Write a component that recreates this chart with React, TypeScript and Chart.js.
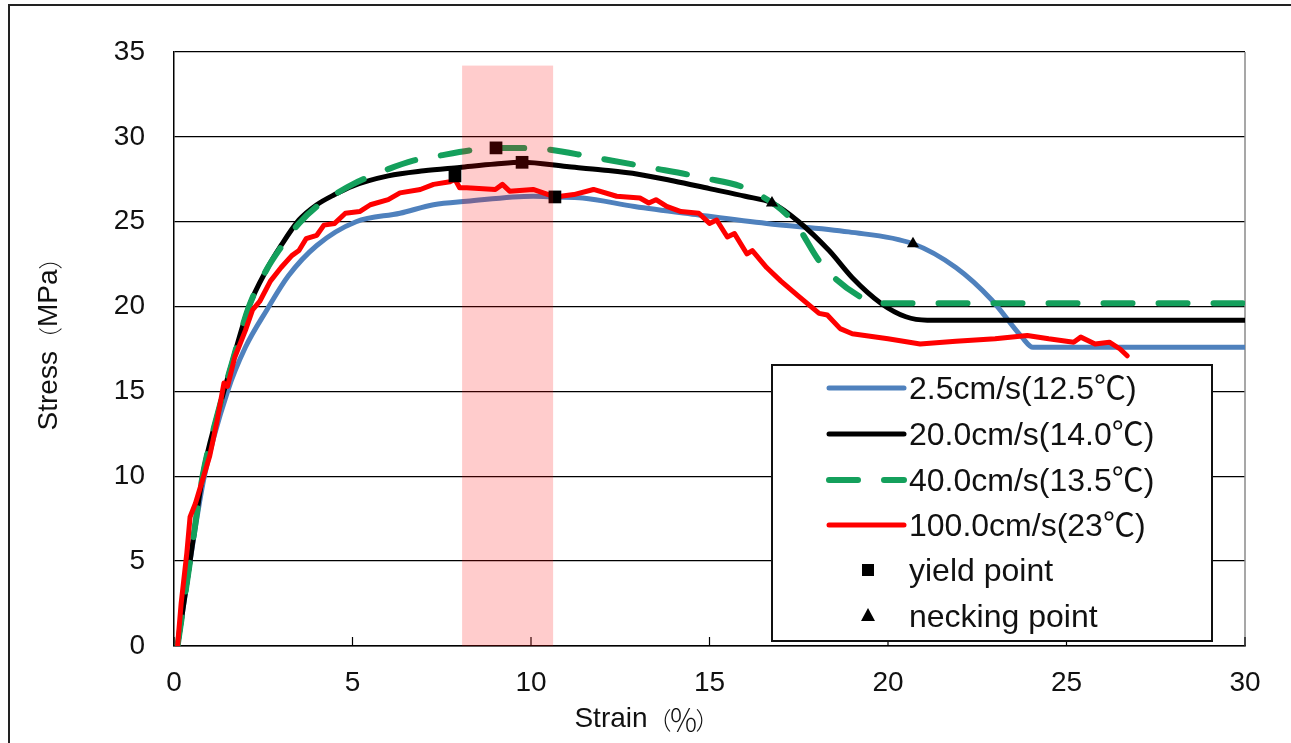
import { useEffect, useRef } from 'react';
import { Chart, registerables } from 'chart.js';
Chart.register(...registerables);

// ---- data ----
const xTicks = [0, 5, 10, 15, 20, 25, 30];
const yTicks = [0, 5, 10, 15, 20, 25, 30, 35];

const blueStrain = [0.1, 0.45, 0.85, 1.5, 2.0, 2.6, 3.2, 4.0, 5.1, 6.33, 7.27, 8.2, 10.06, 10.67, 11.45, 12.9, 14.7, 16.6, 18.9, 20.7, 21.9, 22.9, 23.75, 24.06, 25, 30];
const blueStress = [0, 5, 10, 15, 17.6, 19.8, 21.8, 23.6, 25, 25.5, 26.0, 26.2, 26.5, 26.46, 26.4, 25.9, 25.4, 24.9, 24.4, 23.7, 22.3, 20.4, 18.2, 17.6, 17.6, 17.6];

const blackStrain = [0.1, 0.45, 0.8, 1.2, 1.6, 2.1, 2.6, 3.0, 3.5, 4.0, 4.5, 5.0, 6.0, 7.0, 8.0, 9.0, 9.75, 11, 12, 13, 14, 15, 16, 16.75, 17.5, 18.35, 19.0, 19.8, 20.5, 21.1, 30];
const blackStress = [0, 5, 10, 13.5, 16.5, 20, 22.2, 23.6, 25.1, 26.0, 26.6, 27.1, 27.7, 28.0, 28.2, 28.4, 28.5, 28.25, 28.05, 27.8, 27.4, 26.95, 26.5, 26.1, 25.0, 23.3, 21.7, 20.2, 19.4, 19.2, 19.2];

const greenStrain = [0.1, 0.45, 0.8, 1.2, 1.6, 2.1, 2.6, 3.0, 3.5, 4.0, 4.5, 5.0, 6.0, 6.7, 7.45, 8.3, 9.02, 10.25, 11.74, 13.3, 14.8, 16.2, 17.4, 18.07, 18.5, 19.2, 19.6, 30];
const greenStress = [0, 5, 10, 13.5, 16.5, 20, 22.2, 23.5, 24.9, 25.9, 26.6, 27.2, 28.1, 28.6, 28.9, 29.2, 29.35, 29.3, 28.8, 28.2, 27.6, 26.8, 24.9, 22.7, 21.7, 20.6, 20.2, 20.2];

const redStrain = [0.1, 0.2, 0.36, 0.45, 0.6, 0.8, 1.0, 1.2, 1.4, 1.5, 1.7, 2.0, 2.2, 2.4, 2.7, 3.0, 3.3, 3.5, 3.7, 4.0, 4.2, 4.5, 4.8, 5.2, 5.5, 6.0, 6.33, 6.9, 7.27, 7.73, 7.87, 8.0, 8.2, 9.0, 9.2, 9.4, 10.06, 10.67, 11.2, 11.75, 12.4, 13.05, 13.3, 13.5, 13.8, 14.2, 14.7, 15.0, 15.2, 15.5, 15.7, 16.05, 16.2, 16.6, 17.0, 17.5, 18.07, 18.3, 18.66, 19.0, 20.0, 20.9, 21.9, 23.0, 23.9, 24.5, 25.2, 25.4, 25.8, 26.2, 26.5, 26.7];
const redStress = [0, 2.5, 5.5, 7.6, 8.4, 9.8, 11.2, 13.2, 15.5, 15.3, 17.0, 18.6, 19.8, 20.3, 21.5, 22.3, 23.0, 23.3, 24.0, 24.2, 24.8, 24.9, 25.5, 25.6, 26.0, 26.3, 26.7, 26.9, 27.2, 27.35, 27.5, 27.0, 27.0, 26.9, 27.2, 26.8, 26.9, 26.46, 26.6, 26.9, 26.5, 26.4, 26.1, 26.3, 25.9, 25.6, 25.5, 24.9, 25.1, 24.1, 24.3, 23.1, 23.3, 22.3, 21.5, 20.6, 19.6, 19.5, 18.7, 18.4, 18.1, 17.8, 17.95, 18.1, 18.3, 18.1, 17.9, 18.2, 17.8, 17.9, 17.5, 17.1];

const yieldStrain = [7.87, 9.02, 9.75, 10.67];
const yieldStress = [27.7, 29.35, 28.5, 26.46];
const neckStrain = [16.75, 20.7];
const neckStress = [26.1, 23.7];

const bandStrain = [8.07, 10.62];
const bandTop = 34.2;

const seriesLabels = ['2.5cm/s(12.5℃)', '20.0cm/s(14.0℃)', '40.0cm/s(13.5℃)', '100.0cm/s(23℃)'];
const markerLabels = ['yield point', 'necking point'];
const xTitleParts = ['Strain', '（', '％', '）'];
const yTitleParts = ['Stress', '（', 'MPa', '）'];

const colors = ['#4F81BD', '#000000', '#14A05C', '#FF0000'];
const FONT = '"Liberation Sans", Arial, "Noto Sans CJK JP", sans-serif';
const CJK = '"Noto Sans CJK JP", sans-serif';

const pts = (xs: number[], ys: number[]) => xs.map((x, i) => ({ x, y: ys[i] }));

const isCJK = (s: string) => /[（）％]/.test(s);

function drawSegments(ctx: CanvasRenderingContext2D, parts: string[], cx: number, cy: number) {
  const fonts = parts.map((p) => (p === '％' ? `300 30px ${CJK}` : isCJK(p) ? `300 24px ${CJK}` : `28px ${FONT}`));
  const widths = parts.map((p, i) => { ctx.font = fonts[i]; return ctx.measureText(p).width * (p === '％' ? 0.8 : 1); });
  const total = widths.reduce((a, b) => a + b, 0);
  let x = cx - total / 2;
  ctx.textAlign = 'left';
  ctx.textBaseline = 'middle';
  parts.forEach((p, i) => {
    ctx.font = fonts[i];
    ctx.fillText(p, x - (p === '％' ? widths[i] * 0.125 : 0), cy + (isCJK(p) ? 1 : 0));
    x += widths[i];
  });
}

const decorPlugin = {
  id: 'decor',
  beforeDatasetsDraw(chart: any) {
    const { ctx, chartArea: a, scales } = chart;
    ctx.save();
    ctx.strokeStyle = '#8a8a8a';
    ctx.lineWidth = 1.5;
    ctx.beginPath();
    ctx.moveTo(a.right, a.top);
    ctx.lineTo(a.right, a.bottom);
    ctx.stroke();
    ctx.strokeStyle = '#000';
    ctx.lineWidth = 1.2;
    xTicks.forEach((v) => {
      const px = scales.x.getPixelForValue(v);
      ctx.beginPath();
      ctx.moveTo(px, a.bottom);
      ctx.lineTo(px, a.bottom - 9);
      ctx.stroke();
    });
    ctx.restore();
  },
  afterDatasetsDraw(chart: any) {
    const { ctx, scales } = chart;
    const x0 = scales.x.getPixelForValue(bandStrain[0]);
    const x1 = scales.x.getPixelForValue(bandStrain[1]);
    const yT = scales.y.getPixelForValue(bandTop);
    const yB = scales.y.getPixelForValue(0);
    ctx.save();
    ctx.fillStyle = 'rgba(255,0,0,0.2)';
    ctx.fillRect(x0, yT, x1 - x0, yB - yT);
    ctx.restore();
  },
  afterDraw(chart: any) {
    const { ctx } = chart;
    ctx.save();
    ctx.fillStyle = '#111';
    drawSegments(ctx, xTitleParts, 647, 719);
    ctx.save();
    ctx.translate(49, 338);
    ctx.rotate(-Math.PI / 2);
    drawSegments(ctx, yTitleParts, 0, 0);
    ctx.restore();

    const bx = 772, by = 365, bw = 440, bh = 276;
    ctx.fillStyle = '#fff';
    ctx.fillRect(bx, by, bw, bh);
    ctx.strokeStyle = '#111';
    ctx.lineWidth = 2;
    ctx.strokeRect(bx, by, bw, bh);

    const rowY = [390, 436, 482, 527, 572, 618];
    const lx0 = 829, lx1 = 904, tx = 909;
    ctx.font = `32px ${FONT}`;
    ctx.textAlign = 'left';
    ctx.textBaseline = 'middle';
    seriesLabels.forEach((lab, i) => {
      ctx.save();
      ctx.strokeStyle = colors[i];
      ctx.lineWidth = i === 2 ? 6 : 5;
      ctx.lineCap = 'round';
      if (i === 2) ctx.setLineDash([29, 26]);
      ctx.beginPath();
      ctx.moveTo(lx0, rowY[i] - 2);
      ctx.lineTo(lx1, rowY[i] - 2);
      ctx.stroke();
      ctx.restore();
      ctx.fillStyle = '#111';
      ctx.fillText(lab, tx, rowY[i]);
    });
    ctx.fillStyle = '#000';
    const mx = 868;
    ctx.fillRect(mx - 6, rowY[4] - 8, 12, 12);
    ctx.beginPath();
    ctx.moveTo(mx, rowY[5] - 10);
    ctx.lineTo(mx + 7, rowY[5] + 3);
    ctx.lineTo(mx - 7, rowY[5] + 3);
    ctx.closePath();
    ctx.fill();
    ctx.fillStyle = '#111';
    ctx.fillText(markerLabels[0], tx, rowY[4]);
    ctx.fillText(markerLabels[1], tx, rowY[5]);
    ctx.restore();
  },
};

export default function App() {
  const ref = useRef<HTMLCanvasElement>(null);
  useEffect(() => {
    document.body.style.margin = '0';
    const c = ref.current!;
    const lineDs = (label: string, xs: number[], ys: number[], i: number, order: number, extra: any = {}) => ({
      type: 'line',
      label,
      data: pts(xs, ys),
      borderColor: colors[i],
      backgroundColor: colors[i],
      borderWidth: 5,
      pointRadius: 0,
      borderJoinStyle: 'round',
      borderCapStyle: 'round',
      fill: false,
      order,
      ...extra,
    });
    const chart = new Chart(c, {
      type: 'line',
      data: {
        datasets: [
          {
            type: 'scatter',
            label: markerLabels[0],
            data: pts(yieldStrain, yieldStress),
            pointStyle: 'rect',
            pointRadius: 9,
            backgroundColor: '#000',
            borderColor: '#000',
            borderWidth: 0,
            showLine: false,
            order: 0,
          },
          {
            type: 'scatter',
            label: markerLabels[1],
            data: pts(neckStrain, neckStress),
            pointStyle: 'triangle',
            pointRadius: 7,
            backgroundColor: '#000',
            borderColor: '#000',
            borderWidth: 0,
            showLine: false,
            order: 0,
          },
          lineDs(seriesLabels[3], redStrain, redStress, 3, 1, { tension: 0 }),
          lineDs(seriesLabels[2], greenStrain, greenStress, 2, 2, { borderDash: [29, 26], borderWidth: 6, cubicInterpolationMode: 'monotone', borderCapStyle: 'round' }),
          lineDs(seriesLabels[1], blackStrain, blackStress, 1, 3, { cubicInterpolationMode: 'monotone' }),
          lineDs(seriesLabels[0], blueStrain, blueStress, 0, 4, { cubicInterpolationMode: 'monotone' }),
        ] as any,
      },
      options: {
        animation: false,
        responsive: false,
        devicePixelRatio: 1,
        layout: { padding: { left: 0, right: 46, top: 52, bottom: 0 } },
        plugins: { legend: { display: false }, tooltip: { enabled: false } },
        scales: {
          x: {
            type: 'linear',
            min: 0,
            max: 30,
            afterBuildTicks: (s: any) => { s.ticks = xTicks.map((v) => ({ value: v })); },
            afterFit: (s: any) => { s.height = 97; },
            grid: { display: false, drawTicks: false },
            border: { display: true, color: '#000', width: 1.5 },
            ticks: { padding: 20, color: '#111', font: { family: FONT, size: 28 }, maxRotation: 0 },
          },
          y: {
            type: 'linear',
            min: 0,
            max: 35,
            afterBuildTicks: (s: any) => { s.ticks = yTicks.map((v) => ({ value: v })); },
            afterFit: (s: any) => { s.width = 174; },
            grid: { display: true, color: '#000', lineWidth: 1.3, drawTicks: false },
            border: { display: true, color: '#000', width: 1.5 },
            ticks: { padding: 29, color: '#111', font: { family: FONT, size: 28 } },
          },
        },
      },
      plugins: [decorPlugin],
    } as any);
    return () => chart.destroy();
  }, []);
  return (
    <div style={{ position: 'relative', width: 1291, height: 743, background: '#fff', overflow: 'hidden' }}>
      <div style={{ position: 'absolute', left: 8, top: 4, width: 1320, height: 760, border: '2px solid #222', boxSizing: 'border-box' }} />
      <canvas ref={ref} width={1291} height={743} style={{ position: 'absolute', left: 0, top: 0, width: 1291, height: 743 }} />
    </div>
  );
}
